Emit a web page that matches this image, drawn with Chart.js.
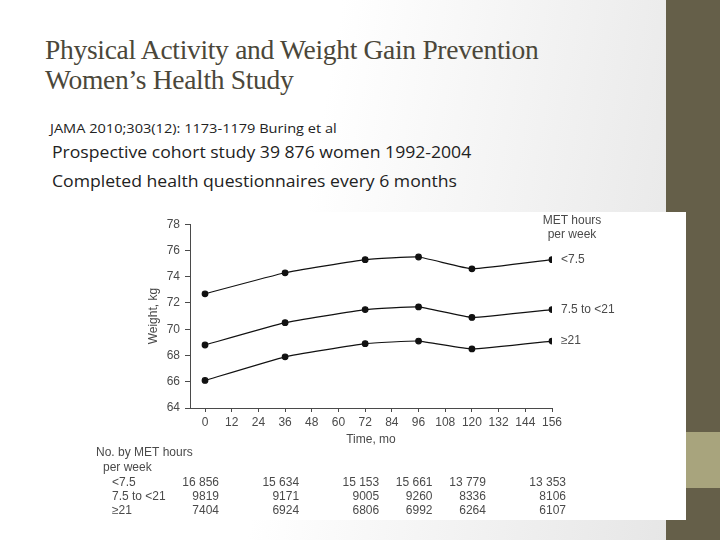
<!DOCTYPE html>
<html>
<head>
<meta charset="utf-8">
<script src="https://cdn.jsdelivr.net/npm/chart.js@4/dist/chart.umd.min.js"></script>
<style>
  html, body { margin: 0; padding: 0; }
  body { width: 720px; height: 540px; position: relative; overflow: hidden;
         background: linear-gradient(100deg, #ffffff 42%, #e3e3e3 100%); }
  .bar { position: absolute; left: 666px; top: 0; width: 54px; height: 540px; background: #655f49; }
  .band { position: absolute; left: 686px; top: 432px; width: 34px; height: 56px; background: #a8a47d; }
  .title { position: absolute; left: 45px; top: 35px; font-family: "Liberation Serif", serif;
           font-size: 27.5px; line-height: 30px; color: #4b473a; letter-spacing: -0.3px; }
  .ref { position: absolute; left: 50px; top: 119px; font-family: "Open Sans", sans-serif;
         font-size: 13px; color: #222; transform: scaleX(1.12); transform-origin: left top; white-space: nowrap; }
  .body { position: absolute; left: 52px; top: 138px; font-family: "Open Sans", sans-serif;
          font-size: 16px; line-height: 29px; color: #222; transform: scaleX(1.1); transform-origin: left top; white-space: nowrap; }
  .box { position: absolute; left: 88px; top: 212px; width: 598px; height: 308px; background: #fff; }
  #chart { position: absolute; left: 0; top: 0; }
</style>
</head>
<body>
<div class="bar"></div>
<div class="band"></div>
<div class="title">Physical Activity and Weight Gain Prevention<br>Women’s Health Study</div>
<div class="ref">JAMA 2010;303(12): 1173-1179 Buring et al</div>
<div class="body">Prospective cohort study 39 876 women 1992-2004<br>Completed health questionnaires every 6 months</div>
<div class="box"><canvas id="chart" width="598" height="308"></canvas></div>
<script>
// donnees
const months = [0, 36, 72, 96, 120, 156];
const groups = ['<7.5', '7.5 to <21', '≥21'];
const weightLow = [72.7, 74.3, 75.3, 75.5, 74.6, 75.3];   // <7.5 MET h/sem
const weightMid = [68.8, 70.5, 71.5, 71.7, 70.9, 71.5];   // 7.5 to <21
const weightHigh = [66.1, 67.9, 68.9, 69.1, 68.5, 69.1];  // >=21
const xTicks = [0, 12, 24, 36, 48, 60, 72, 84, 96, 108, 120, 132, 144, 156];
const yTicks = [64, 66, 68, 70, 72, 74, 76, 78];
const nLow = ['16 856', '15 634', '15 153', '15 661', '13 779', '13 353'];
const nMid = ['9819', '9171', '9005', '9260', '8336', '8106'];
const nHigh = ['7404', '6924', '6806', '6992', '6264', '6107'];

const gray = '#4a4a4a';
const fnt = '"Liberation Sans", Arial, sans-serif';

function serie(label, vals) {
    return {
        label: label,
        data: months.map((m, i) => ({ x: m, y: vals[i] })),
        borderColor: '#111',
        backgroundColor: '#111',
        borderWidth: 1.2,
        pointRadius: 2.8,
        pointHoverRadius: 2.8,
        tension: 0.1
    };
}

// textes autour du graphique : etiquettes de fin, titre de legende, tableau des effectifs
const extras = {
    id: 'extras',
    afterDraw(chart) {
        const ctx = chart.ctx;
        const xs = chart.scales.x;
        const ys = chart.scales.y;
        ctx.save();
        ctx.fillStyle = gray;
        ctx.font = '12px ' + fnt;
        ctx.textBaseline = 'middle';

        ctx.textAlign = 'center';
        ctx.fillText('MET hours', 484, 9);
        ctx.fillText('per week', 484, 23);

        ctx.textAlign = 'left';
        const last = months.length - 1;
        [weightLow, weightMid, weightHigh].forEach((vals, i) => {
            ctx.fillText(groups[i], xs.getPixelForValue(months[last]) + 9, ys.getPixelForValue(vals[last]));
        });

        ctx.fillText('No. by MET hours', 8, 241);
        ctx.fillText('per week', 15, 256);
        const rowsY = [271, 285, 299];
        [nLow, nMid, nHigh].forEach((row, r) => {
            ctx.textAlign = 'left';
            ctx.fillText(groups[r], 24, rowsY[r]);
            ctx.textAlign = 'right';
            row.forEach((txt, i) => {
                ctx.fillText(txt, xs.getPixelForValue(months[i]) + 14, rowsY[r]);
            });
        });
        ctx.restore();
    }
};

const ctx = document.getElementById('chart').getContext('2d');
const myChart = new Chart(ctx, {
    type: 'line',
    data: {
        datasets: [serie(groups[0], weightLow), serie(groups[1], weightMid), serie(groups[2], weightHigh)]
    },
    options: {
        responsive: false,
        animation: false,
        events: [],
        layout: { padding: { left: 58, right: 134, top: 7.5, bottom: 72 } },
        plugins: { legend: { display: false }, tooltip: { enabled: false } },
        scales: {
            x: {
                type: 'linear',
                min: -6.75,
                max: 156,
                afterBuildTicks: (s) => { s.ticks = xTicks.map(v => ({ value: v })); },
                afterFit: (s) => { s.height = 40; },
                border: { color: gray, width: 1 },
                grid: { drawOnChartArea: false, tickLength: 4, tickColor: gray },
                ticks: { color: gray, font: { family: fnt, size: 12 }, padding: 3, maxRotation: 0, autoSkip: false },
                title: { display: true, text: 'Time, mo', color: gray, font: { family: fnt, size: 12 }, padding: { top: 0, bottom: 1 } }
            },
            y: {
                min: 64,
                max: 78,
                afterBuildTicks: (s) => { s.ticks = yTicks.map(v => ({ value: v })); },
                afterFit: (s) => { s.width = 44; },
                border: { color: gray, width: 1 },
                grid: { drawOnChartArea: false, tickLength: 5, tickColor: gray },
                ticks: { color: gray, font: { family: fnt, size: 12 }, padding: 5 },
                title: { display: true, text: 'Weight, kg', color: gray, font: { family: fnt, size: 12 }, padding: { top: 0, bottom: 0 } }
            }
        }
    },
    plugins: [extras]
});
</script>
</body>
</html>
